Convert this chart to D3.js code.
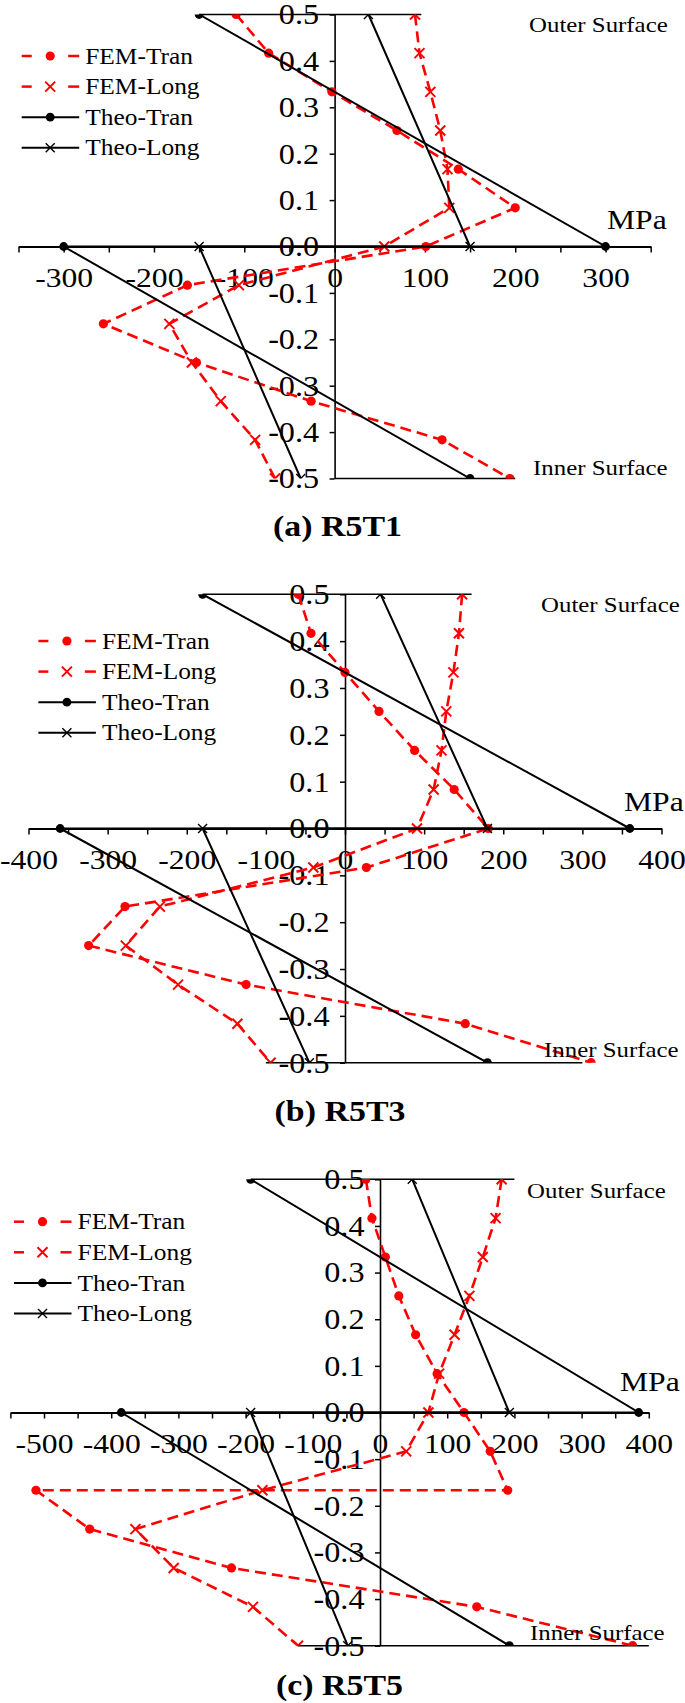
<!DOCTYPE html>
<html>
<head>
<meta charset="utf-8">
<script src="https://cdn.jsdelivr.net/npm/d3@7"></script>
<style>
  body { margin: 0; background: #fff; }
  svg { display: block; font-family: "Liberation Serif", "Times New Roman", serif; }
</style>
</head>
<body>
<svg id="chart" width="685" height="1703"></svg>
<script>
// position through the wall thickness (outer surface 0.5, inner -0.5)
const depth = [0.5, 0.4167, 0.3333, 0.25, 0.1667, 0.0833, 0, -0.0833, -0.1667, -0.25, -0.3333, -0.4167, -0.5];
const theoDepth = [0.5, 0, 0, -0.5];
const surfaceDepth = { outer: 0.5, inner: -0.5 };

// (a) R5T1, stresses in MPa
const r5t1FemTran = [-109, -73, -3, 69, 137, 200, 101, -163, -256, -153, -26, 119, 194];
const r5t1FemLong = [89, 94, 106, 117, 125, 127, 55, -106, -183, -158, -126, -88, -66];
const r5t1TheoTran = [-150, 300, -300, 150];
const r5t1TheoLong = [37.5, 150, -150, -37.5];
const r5t1Outer = [-150, 96];
const r5t1Inner = [0, 200];

// (b) R5T3
const r5t3FemTran = [-59, -43, 0, 43, 88, 138, 181, 27, -278, -324, -125, 152, 311];
const r5t3FemLong = [148, 144, 137, 128, 122, 112, 91, -40, -234, -277, -211, -136, -94];
const r5t3TheoTran = [-180, 360, -360, 180];
const r5t3TheoLong = [45, 180, -180, -45];
const r5t3Outer = [-180, 160];
const r5t3Inner = [-100, 300];

// (c) R5T5 - transverse FEM has two points at -0.1667
const r5t5FemTranDepth = [0.5, 0.4167, 0.3333, 0.25, 0.1667, 0.0833, 0, -0.0833, -0.1667, -0.1667, -0.25, -0.3333, -0.4167, -0.5];
const r5t5FemTran = [-21, -12, 8, 28, 53, 85, 125, 164, 190, -512, -432, -221, 144, 376];
const r5t5FemLong = [181, 172, 153, 133, 111, 88, 72, 39, -175, -364, -307, -189, -122];
const r5t5TheoTran = [-192.5, 385, -385, 192.5];
const r5t5TheoLong = [48, 192.5, -192.5, -48];
const r5t5Outer = [-192.5, 200];
const r5t5Inner = [-123, 400];

const legendLabels = ["FEM-Tran", "FEM-Long", "Theo-Tran", "Theo-Long"];
const panelTitles = ["(a) R5T1", "(b) R5T3", "(c) R5T5"];

const RED = "#ff0000";
const SX = 1.13; // text in the figure is a bit wide
const svg = d3.select("#chart");

const panels = [
  { id: "a", title: panelTitles[0], xDomain: [-350, 350], xRange: [18.5, 650.7], yRange: [478.5, 14.5],
    femTran: d3.zip(r5t1FemTran, depth), femLong: d3.zip(r5t1FemLong, depth),
    theoTran: d3.zip(r5t1TheoTran, theoDepth), theoLong: d3.zip(r5t1TheoLong, theoDepth),
    outer: r5t1Outer, inner: r5t1Inner,
    legend: [21.7, 56], outerLbl: [529, 31.5], mpa: [607, 229], innerLbl: [533, 474.5], titlePos: [337.5, 536] },
  { id: "b", title: panelTitles[1], xDomain: [-400, 400], xRange: [28.5, 661.5], yRange: [1062.7, 594.3],
    femTran: d3.zip(r5t3FemTran, depth), femLong: d3.zip(r5t3FemLong, depth),
    theoTran: d3.zip(r5t3TheoTran, theoDepth), theoLong: d3.zip(r5t3TheoLong, theoDepth),
    outer: r5t3Outer, inner: r5t3Inner,
    legend: [38.4, 641], outerLbl: [541, 612], mpa: [624, 811], innerLbl: [544, 1056.5], titlePos: [340, 1121] },
  { id: "c", title: panelTitles[2], xDomain: [-550, 400], xRange: [10.4, 648.8], yRange: [1645.7, 1179.3],
    femTran: d3.zip(r5t5FemTran, r5t5FemTranDepth), femLong: d3.zip(r5t5FemLong, depth),
    theoTran: d3.zip(r5t5TheoTran, theoDepth), theoLong: d3.zip(r5t5TheoLong, theoDepth),
    outer: r5t5Outer, inner: r5t5Inner,
    legend: [14, 1221.7], outerLbl: [527, 1197.5], mpa: [620, 1391], innerLbl: [530, 1639.5], titlePos: [339.5, 1695] }
];

function stretch(sel, x, y) {
  sel.attr("x", 0).attr("y", 0).attr("transform", `translate(${x},${y}) scale(${SX},1)`);
}

function xMark(s) {
  return `M${-s},${-s}L${s},${s}M${-s},${s}L${s},${-s}`;
}

function drawPanel(p) {
  const x = d3.scaleLinear().domain(p.xDomain).range(p.xRange);
  const y = d3.scaleLinear().domain([-0.5, 0.5]).range(p.yRange);
  const g = svg.append("g");

  // outer / inner surface lines
  [[p.outer, surfaceDepth.outer], [p.inner, surfaceDepth.inner]].forEach(([xs, d]) => {
    g.append("line")
      .attr("x1", x(xs[0])).attr("x2", x(xs[1]))
      .attr("y1", y(d)).attr("y2", y(d))
      .attr("stroke", "#000").attr("stroke-width", 1.6);
  });

  // x axis through zero
  const xTicks = d3.range(p.xDomain[0], p.xDomain[1] + 1, 50);
  const xAxis = g.append("g")
    .attr("transform", `translate(0,${y(0)})`)
    .call(d3.axisBottom(x).tickValues(xTicks).tickSize(6).tickSizeOuter(0)
      .tickFormat(d => d % 100 === 0 ? String(d) : ""))
    .attr("font-family", null).attr("font-size", null);
  xAxis.select(".domain").attr("stroke-width", 2);
  xAxis.selectAll(".tick line").attr("stroke-width", 1.5);
  xAxis.selectAll(".tick text")
    .attr("dy", null).attr("font-size", 28).attr("fill", "#000")
    .each(function() { stretch(d3.select(this), 0, 40); });

  // y axis at zero stress
  const yAxis = g.append("g")
    .attr("transform", `translate(${x(0)},0)`)
    .call(d3.axisLeft(y).tickValues(d3.range(-5, 6).map(i => i / 10)).tickSize(5).tickSizeOuter(0)
      .tickFormat(d => d.toFixed(1)))
    .attr("font-family", null).attr("font-size", null);
  yAxis.select(".domain").attr("stroke-width", 1.6);
  yAxis.selectAll(".tick line").attr("stroke-width", 1.5);
  yAxis.selectAll(".tick text")
    .attr("dy", "0.33em").attr("font-size", 28.5).attr("fill", "#000")
    .attr("text-anchor", "end")
    .each(function() { stretch(d3.select(this), -15.5, 0); });

  // series, clipped to the wall thickness
  const clipId = "clip-" + p.id;
  svg.append("clipPath").attr("id", clipId).append("rect")
    .attr("x", 0).attr("width", 685)
    .attr("y", y(0.5)).attr("height", y(-0.5) - y(0.5));
  const plot = g.append("g").attr("clip-path", `url(#${clipId})`);
  const line = d3.line().x(d => x(d[0])).y(d => y(d[1]));

  plot.append("path").datum(p.femTran).attr("d", line)
    .attr("fill", "none").attr("stroke", RED).attr("stroke-width", 2.6).attr("stroke-dasharray", "11,6");
  plot.append("path").datum(p.femLong).attr("d", line)
    .attr("fill", "none").attr("stroke", RED).attr("stroke-width", 2.6).attr("stroke-dasharray", "11,6");
  plot.selectAll(".ft").data(p.femTran).join("circle")
    .attr("cx", d => x(d[0])).attr("cy", d => y(d[1])).attr("r", 4.6).attr("fill", RED);
  plot.selectAll(".fl").data(p.femLong).join("path")
    .attr("transform", d => `translate(${x(d[0])},${y(d[1])})`)
    .attr("d", xMark(5)).attr("stroke", RED).attr("stroke-width", 2).attr("fill", "none");

  plot.append("path").datum(p.theoTran).attr("d", line)
    .attr("fill", "none").attr("stroke", "#000").attr("stroke-width", 2);
  plot.append("path").datum(p.theoLong).attr("d", line)
    .attr("fill", "none").attr("stroke", "#000").attr("stroke-width", 2);
  plot.selectAll(".tt").data(p.theoTran).join("circle")
    .attr("cx", d => x(d[0])).attr("cy", d => y(d[1])).attr("r", 4.4).attr("fill", "#000");
  plot.selectAll(".tl").data(p.theoLong).join("path")
    .attr("transform", d => `translate(${x(d[0])},${y(d[1])})`)
    .attr("d", xMark(4.5)).attr("stroke", "#000").attr("stroke-width", 1.4).attr("fill", "none");

  // legend
  const [lx, ly] = p.legend;
  legendLabels.forEach((name, i) => {
    const row = g.append("g").attr("transform", `translate(${lx},${ly + i * 30.6})`);
    const fem = i < 2;
    const col = fem ? RED : "#000";
    if (fem) {
      row.append("line").attr("x1", 0).attr("x2", 10).attr("stroke", col).attr("stroke-width", 2.5);
      row.append("line").attr("x1", 46.5).attr("x2", 57.5).attr("stroke", col).attr("stroke-width", 2.5);
    } else {
      row.append("line").attr("x1", 0).attr("x2", 57.5).attr("stroke", col).attr("stroke-width", 2);
    }
    if (i % 2 === 0) {
      row.append("circle").attr("cx", 28.5).attr("r", fem ? 4.6 : 4.4).attr("fill", col);
    } else {
      row.append("path").attr("transform", "translate(28.5,0)")
        .attr("d", xMark(fem ? 5 : 4.5)).attr("stroke", col)
        .attr("stroke-width", fem ? 2 : 1.4).attr("fill", "none");
    }
    row.append("text").text(name).attr("font-size", 22.5).attr("dy", "0.34em")
      .call(s => stretch(s, 63.5, 0));
  });

  // annotations
  g.append("text").text("Outer Surface").attr("font-size", 22).call(s => stretch(s, p.outerLbl[0], p.outerLbl[1]));
  g.append("text").text("Inner Surface").attr("font-size", 22).call(s => stretch(s, p.innerLbl[0], p.innerLbl[1]));
  g.append("text").text("MPa").attr("font-size", 28).call(s => stretch(s, p.mpa[0], p.mpa[1]));
  g.append("text").text(p.title).attr("font-size", 30).attr("font-weight", "bold")
    .attr("text-anchor", "middle").call(s => stretch(s, p.titlePos[0], p.titlePos[1]));
}

panels.forEach(drawPanel);
</script>
</body>
</html>
